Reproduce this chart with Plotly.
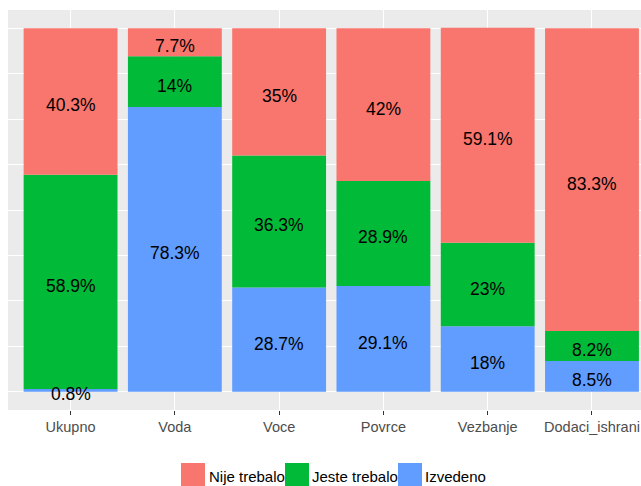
import plotly.graph_objects as go
import numpy as np

categories = ["Ukupno", "Voda", "Voce", "Povrce", "Vezbanje", "Dodaci_ishrani"]
izvedeno = [0.8, 78.3, 28.7, 29.1, 18.0, 8.5]
jeste_trebalo = [58.9, 14.0, 36.3, 28.9, 23.0, 8.2]
nije_trebalo = [40.3, 7.7, 35.0, 42.0, 59.1, 83.3]

series = [
    ("Izvedeno", izvedeno, "#619CFF"),
    ("Jeste trebalo", jeste_trebalo, "#00BA38"),
    ("Nije trebalo", nije_trebalo, "#F8766D"),
]

FONT = "Liberation Sans, Arial, sans-serif"
fig = go.Figure()
xs = list(range(len(categories)))
base = np.zeros(len(categories))
for name, vals, color in series:
    v = np.array(vals) / 100.0
    fig.add_trace(go.Bar(x=xs, y=v, base=base, width=0.9, marker=dict(color=color, line=dict(width=0)),
                         name=name, showlegend=False, hoverinfo="skip"))
    mids = base + v / 2
    for xi, yi, val in zip(xs, mids, vals):
        fig.add_annotation(x=xi, y=yi, xref="x", yref="y", text=f"{val:g}%",
                           showarrow=False, xanchor="center", yanchor="middle", yshift=-4,
                           font=dict(family=FONT, size=17.5, color="black"))
    base = base + v

# body margin is removed below, so figure px == page px
W, H = 641, 486
ML, MT, MB = 8, 10, 76
PW, PH = W - ML, H - MT - MB
PANEL_BOTTOM = MT + PH

def px_x(page_x):
    return (page_x - ML) / PW

def px_y(page_y):
    return (PANEL_BOTTOM - page_y) / PH

# manual ggplot-style legend
legend_items = [("Nije trebalo", "#F8766D", 181, 207), ("Jeste trebalo", "#00BA38", 285, 310), ("Izvedeno", "#619CFF", 398, 423)]
for name, color, kx, tx in legend_items:
    fig.add_shape(type="rect", xref="paper", yref="paper",
                  x0=px_x(kx), x1=px_x(kx + 24),
                  y0=px_y(488), y1=px_y(463),
                  fillcolor=color, line=dict(width=0))
    fig.add_annotation(text=name, xref="paper", yref="paper",
                       x=px_x(tx), y=px_y(476), xanchor="left", yanchor="middle",
                       showarrow=False, font=dict(family=FONT, size=15, color="black"))

fig.update_layout(
    width=W, height=H,
    margin=dict(l=ML, r=0, t=MT, b=MB, autoexpand=False),
    paper_bgcolor="white",
    plot_bgcolor="#EBEBEB",
    barmode="overlay",
    xaxis=dict(range=[-0.6, 5.47], tickvals=xs, ticktext=categories, automargin=False,
               ticklabeloverflow="allow",
               showgrid=True, gridcolor="white", gridwidth=1.1,
               ticks="outside", ticklen=4, tickcolor="#333333", tickwidth=1,
               tickfont=dict(family=FONT, size=14.5, color="#4D4D4D"),
               zeroline=False, showline=False, fixedrange=True),
    yaxis=dict(range=[-0.05, 1.05], tickmode="linear", tick0=0, dtick=0.25, automargin=False,
               showticklabels=False, showgrid=True, gridcolor="white", gridwidth=1.1,
               minor=dict(tickmode="linear", tick0=0, dtick=0.125, showgrid=True, gridcolor="white", gridwidth=0.5),
               zeroline=False, showline=False, ticks=""),
)

fig.write_html("out.html", config={"displayModeBar": False},
               post_script="document.body.style.margin='0';document.body.style.overflow='hidden';")
